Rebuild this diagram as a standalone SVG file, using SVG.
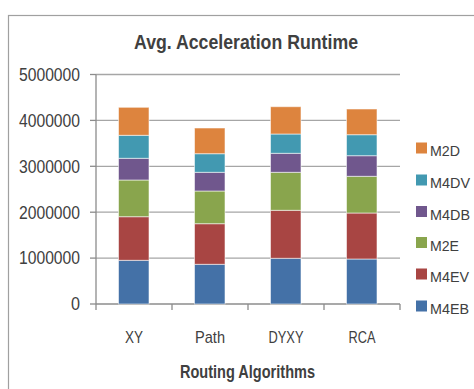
<svg xmlns="http://www.w3.org/2000/svg" width="474" height="389" viewBox="0 0 474 389">
  <style>
    .txt { font-family: "Liberation Sans", "Open Sans", sans-serif; fill: #404040; }
    .grid { stroke: #A6A6A6; stroke-width: 1.3; }
    .axis { stroke: #8C8C8C; stroke-width: 1.3; }
    .seg { stroke: #FFFFFF; stroke-opacity: 0.55; stroke-width: 1; }
    .m4eb { fill: #4471A7; }
    .m4ev { fill: #A84543; }
    .m2e  { fill: #89A54D; }
    .m4db { fill: #70578D; }
    .m4dv { fill: #4299B1; }
    .m2d  { fill: #DD843E; }
  </style>

  <rect x="0" y="0" width="474" height="389" fill="#FFFFFF"/>
  <!-- chart area frame -->
  <rect x="8.5" y="15.5" width="480" height="400" fill="none" stroke="#A0A0A0" stroke-width="1.2"/>

  <!-- title -->
  <text class="txt" x="246" y="48.5" font-size="20.5" font-weight="bold" text-anchor="middle" textLength="224" lengthAdjust="spacingAndGlyphs">Avg. Acceleration Runtime</text>

  <!-- gridlines -->
  <g id="gridlines">
    <line class="grid" x1="96" y1="74.5" x2="400" y2="74.5"/>
    <line class="grid" x1="96" y1="120.4" x2="400" y2="120.4"/>
    <line class="grid" x1="96" y1="166.3" x2="400" y2="166.3"/>
    <line class="grid" x1="96" y1="212.2" x2="400" y2="212.2"/>
    <line class="grid" x1="96" y1="258.1" x2="400" y2="258.1"/>
  </g>

  <!-- axes with tick marks -->
  <g id="axes">
    <line class="axis" x1="96" y1="74.5" x2="96" y2="310"/>
    <line class="axis" x1="96" y1="304" x2="400" y2="304"/>
    <line class="axis" x1="90" y1="74.5" x2="96" y2="74.5"/>
    <line class="axis" x1="90" y1="120.4" x2="96" y2="120.4"/>
    <line class="axis" x1="90" y1="166.3" x2="96" y2="166.3"/>
    <line class="axis" x1="90" y1="212.2" x2="96" y2="212.2"/>
    <line class="axis" x1="90" y1="258.1" x2="96" y2="258.1"/>
    <line class="axis" x1="90" y1="304" x2="96" y2="304"/>
    <line class="axis" x1="172" y1="304" x2="172" y2="310"/>
    <line class="axis" x1="248" y1="304" x2="248" y2="310"/>
    <line class="axis" x1="324" y1="304" x2="324" y2="310"/>
    <line class="axis" x1="400" y1="304" x2="400" y2="310"/>
  </g>

  <!-- value axis labels -->
  <g id="y-labels" class="txt" font-size="17.5" text-anchor="end">
    <text x="80" y="80.8" textLength="61" lengthAdjust="spacingAndGlyphs">5000000</text>
    <text x="80" y="126.7" textLength="61" lengthAdjust="spacingAndGlyphs">4000000</text>
    <text x="80" y="172.6" textLength="61" lengthAdjust="spacingAndGlyphs">3000000</text>
    <text x="80" y="218.5" textLength="61" lengthAdjust="spacingAndGlyphs">2000000</text>
    <text x="80" y="264.4" textLength="61" lengthAdjust="spacingAndGlyphs">1000000</text>
    <text x="80" y="310.3" textLength="9" lengthAdjust="spacingAndGlyphs">0</text>
  </g>

  <!-- stacked bars, bottom to top: M4EB, M4EV, M2E, M4DB, M4DV, M2D -->
  <g id="bar-xy">
    <rect class="m4eb seg" x="118.5" y="260.3" width="30.5" height="43.7"/>
    <rect class="m4ev seg" x="118.5" y="216.7" width="30.5" height="43.6"/>
    <rect class="m2e seg" x="118.5" y="180" width="30.5" height="36.7"/>
    <rect class="m4db seg" x="118.5" y="158.3" width="30.5" height="21.7"/>
    <rect class="m4dv seg" x="118.5" y="135.3" width="30.5" height="23"/>
    <rect class="m2d seg" x="118.5" y="107.3" width="30.5" height="28"/>
  </g>
  <g id="bar-path">
    <rect class="m4eb seg" x="194.5" y="264.3" width="30.5" height="39.7"/>
    <rect class="m4ev seg" x="194.5" y="223.7" width="30.5" height="40.6"/>
    <rect class="m2e seg" x="194.5" y="191" width="30.5" height="32.7"/>
    <rect class="m4db seg" x="194.5" y="172.3" width="30.5" height="18.7"/>
    <rect class="m4dv seg" x="194.5" y="153.7" width="30.5" height="18.6"/>
    <rect class="m2d seg" x="194.5" y="128" width="30.5" height="25.7"/>
  </g>
  <g id="bar-dyxy">
    <rect class="m4eb seg" x="270.5" y="258.3" width="30.5" height="45.7"/>
    <rect class="m4ev seg" x="270.5" y="210.3" width="30.5" height="48"/>
    <rect class="m2e seg" x="270.5" y="172.3" width="30.5" height="38"/>
    <rect class="m4db seg" x="270.5" y="153.3" width="30.5" height="19"/>
    <rect class="m4dv seg" x="270.5" y="134" width="30.5" height="19.3"/>
    <rect class="m2d seg" x="270.5" y="106.7" width="30.5" height="27.3"/>
  </g>
  <g id="bar-rca">
    <rect class="m4eb seg" x="346.5" y="259" width="30.5" height="45"/>
    <rect class="m4ev seg" x="346.5" y="213" width="30.5" height="46"/>
    <rect class="m2e seg" x="346.5" y="176.3" width="30.5" height="36.7"/>
    <rect class="m4db seg" x="346.5" y="155.7" width="30.5" height="20.6"/>
    <rect class="m4dv seg" x="346.5" y="134.7" width="30.5" height="21"/>
    <rect class="m2d seg" x="346.5" y="109" width="30.5" height="25.7"/>
  </g>

  <!-- category labels -->
  <g id="x-labels" class="txt" font-size="17" text-anchor="middle">
    <text x="134" y="343" textLength="18" lengthAdjust="spacingAndGlyphs">XY</text>
    <text x="210" y="343" textLength="30" lengthAdjust="spacingAndGlyphs">Path</text>
    <text x="286" y="343" textLength="35" lengthAdjust="spacingAndGlyphs">DYXY</text>
    <text x="362" y="343" textLength="27" lengthAdjust="spacingAndGlyphs">RCA</text>
  </g>
  <text class="txt" x="247.5" y="377.5" font-size="17.5" font-weight="bold" text-anchor="middle" textLength="135" lengthAdjust="spacingAndGlyphs">Routing Algorithms</text>

  <!-- legend -->
  <g id="legend" class="txt" font-size="15.5">
    <rect class="m2d" x="416" y="142.5" width="11" height="11"/>
    <text x="430" y="156" textLength="30" lengthAdjust="spacingAndGlyphs">M2D</text>
    <rect class="m4dv" x="416" y="174.5" width="11" height="11"/>
    <text x="430" y="188" textLength="40" lengthAdjust="spacingAndGlyphs">M4DV</text>
    <rect class="m4db" x="416" y="206" width="11" height="11"/>
    <text x="430" y="219.5" textLength="40" lengthAdjust="spacingAndGlyphs">M4DB</text>
    <rect class="m2e" x="416" y="237" width="11" height="11"/>
    <text x="430" y="250.5" textLength="29" lengthAdjust="spacingAndGlyphs">M2E</text>
    <rect class="m4ev" x="416" y="268.5" width="11" height="11"/>
    <text x="430" y="282" textLength="39" lengthAdjust="spacingAndGlyphs">M4EV</text>
    <rect class="m4eb" x="416" y="300.5" width="11" height="11"/>
    <text x="430" y="314" textLength="39" lengthAdjust="spacingAndGlyphs">M4EB</text>
  </g>
</svg>
